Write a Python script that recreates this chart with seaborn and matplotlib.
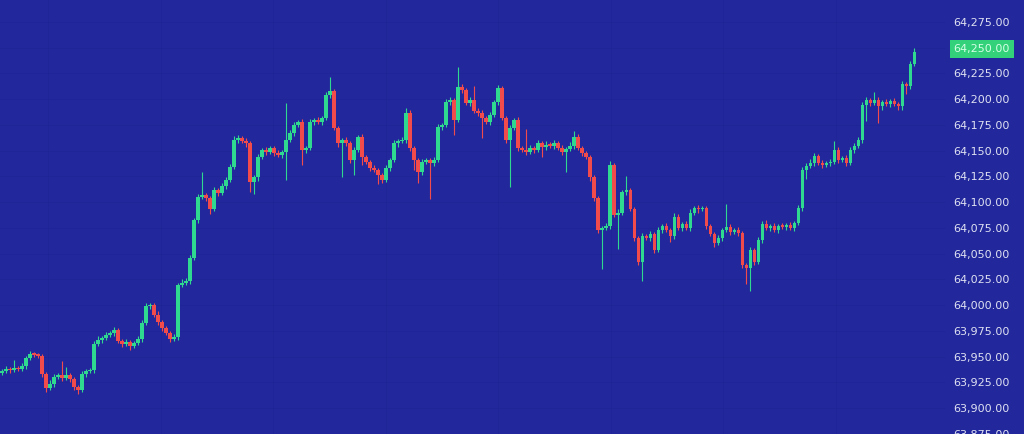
import numpy as np
import pandas as pd
import matplotlib
matplotlib.use("Agg")
import matplotlib.pyplot as plt
import seaborn as sns

# ---------------- data ----------------
first_open = 63934
closes = [
    63936, 63938, 63937, 63939, 63938, 63941, 63949, 63953, 63952, 63951,
    63933, 63920, 63924, 63930, 63932, 63929, 63932, 63928, 63921, 63918,
    63933, 63936, 63937, 63962, 63966, 63968, 63971, 63973, 63976, 63965,
    63962, 63964, 63960, 63963, 63967, 63983, 63999, 64000, 63991, 63984,
    63978, 63973, 63967, 63969, 64020, 64022, 64024, 64046, 64083, 64105,
    64107, 64104, 64093, 64112, 64109, 64116, 64122, 64134, 64160, 64162,
    64159, 64157, 64120, 64124, 64144, 64151, 64149, 64153, 64148, 64146,
    64149, 64160, 64167, 64175, 64178, 64151, 64153, 64178, 64180, 64178,
    64182, 64204, 64208, 64172, 64157, 64160, 64157, 64141, 64151, 64163,
    64144, 64139, 64133, 64131, 64126, 64122, 64133, 64141, 64157, 64159,
    64160, 64187, 64153, 64141, 64129, 64139, 64141, 64138, 64141, 64173,
    64175, 64197, 64199, 64180, 64212, 64209, 64196, 64199, 64189, 64187,
    64182, 64178, 64185, 64197, 64211, 64182, 64160, 64172, 64180, 64153,
    64151, 64149, 64153, 64151, 64157, 64154, 64156, 64155, 64157, 64153,
    64149, 64152, 64155, 64163, 64153, 64148, 64144, 64124, 64104, 64073,
    64075, 64077, 64136, 64088, 64090, 64110, 64112, 64093, 64065, 64042,
    64067, 64065, 64069, 64054, 64073, 64077, 64073, 64067, 64086, 64075,
    64079, 64075, 64090, 64094, 64093, 64094, 64077, 64069, 64060, 64065,
    64073, 64076, 64071, 64073, 64070, 64039, 64036, 64054, 64042, 64063,
    64079, 64075, 64077, 64073, 64077, 64076, 64078, 64075, 64080, 64094,
    64131, 64135, 64138, 64145, 64138, 64136, 64138, 64139, 64151, 64141,
    64143, 64138, 64151, 64155, 64160, 64194, 64199, 64196, 64199, 64193,
    64197, 64195, 64198, 64195, 64193, 64215, 64213, 64234, 64246,
]
upper_wick = [
    2, 3, 2, 8, 2, 3, 2, 3, 2, 2,
    2, 2, 3, 3, 2, 14, 8, 2, 2, 2,
    3, 2, 2, 3, 4, 2, 3, 2, 3, 2,
    2, 3, 2, 2, 3, 3, 3, 2, 2, 3,
    2, 2, 2, 3, 2, 3, 2, 3, 2, 3,
    22, 2, 2, 3, 2, 3, 2, 3, 4, 3,
    2, 3, 2, 2, 3, 2, 3, 2, 2, 3,
    2, 36, 3, 3, 2, 3, 2, 3, 2, 3,
    2, 3, 14, 2, 2, 2, 3, 2, 3, 2,
    3, 2, 2, 3, 2, 2, 3, 2, 3, 2,
    3, 4, 3, 2, 2, 3, 2, 2, 3, 3,
    2, 3, 3, 2, 19, 3, 2, 3, 14, 2,
    3, 2, 3, 2, 3, 2, 2, 3, 2, 3,
    2, 20, 3, 2, 3, 2, 3, 2, 3, 2,
    3, 2, 3, 6, 3, 2, 2, 2, 2, 2,
    2, 3, 4, 2, 3, 2, 13, 2, 2, 2,
    3, 2, 3, 2, 3, 2, 3, 2, 4, 3,
    2, 3, 3, 2, 3, 2, 2, 2, 2, 3,
    2, 22, 3, 2, 3, 2, 2, 3, 2, 3,
    3, 4, 2, 3, 2, 3, 2, 3, 2, 3,
    3, 3, 4, 3, 2, 3, 2, 3, 8, 3,
    2, 3, 3, 2, 3, 3, 3, 2, 8, 3,
    2, 3, 2, 3, 2, 3, 2, 3, 4,
]
lower_wick = [
    2, 2, 3, 2, 2, 2, 3, 2, 2, 2,
    3, 4, 2, 3, 2, 3, 2, 3, 3, 4,
    2, 3, 2, 3, 2, 3, 2, 2, 3, 2,
    3, 2, 3, 2, 2, 3, 2, 3, 2, 3,
    3, 2, 3, 2, 3, 2, 2, 3, 2, 3,
    2, 3, 4, 2, 3, 2, 3, 2, 2, 3,
    2, 3, 10, 12, 3, 2, 3, 2, 3, 2,
    3, 27, 2, 3, 2, 15, 3, 2, 3, 2,
    3, 2, 3, 2, 3, 33, 2, 3, 15, 2,
    8, 2, 3, 2, 8, 3, 2, 3, 2, 3,
    2, 3, 3, 10, 10, 3, 2, 35, 3, 2,
    3, 2, 3, 15, 2, 3, 2, 3, 2, 3,
    20, 2, 3, 2, 3, 2, 3, 45, 2, 3,
    2, 3, 2, 3, 2, 10, 3, 2, 3, 2,
    3, 20, 2, 3, 2, 3, 2, 3, 3, 3,
    38, 2, 3, 2, 33, 2, 3, 2, 3, 3,
    18, 2, 3, 3, 2, 3, 2, 6, 3, 2,
    3, 2, 3, 2, 3, 2, 3, 2, 3, 2,
    3, 2, 3, 2, 3, 3, 15, 22, 3, 2,
    3, 2, 3, 2, 3, 2, 3, 2, 3, 2,
    3, 8, 2, 3, 2, 3, 2, 3, 2, 3,
    2, 3, 2, 3, 2, 3, 15, 3, 2, 16,
    3, 2, 3, 2, 3, 3, 8, 3, 2,
]
price_ticks = [63875 + 25 * k for k in range(17)]
highlight_price = 64250

# ---------------- frame ----------------
n = len(closes)
opens = [first_open] + closes[:-1]
df = pd.DataFrame({"idx": np.arange(n), "open": opens, "close": closes})
df["top"] = df[["open", "close"]].max(axis=1)
df["bot"] = df[["open", "close"]].min(axis=1)
df["high"] = df["top"] + np.array(upper_wick)
df["low"] = df["bot"] - np.array(lower_wick)
df["up"] = df["close"] >= df["open"]

BG = "#22289b"
GREEN = "#2fd98f"
RED = "#f24b4b"
GRID = "#1e2494"

sns.set_theme(style="dark")
plt.rcParams["font.family"] = ["DejaVu Sans"]

fig = plt.figure(figsize=(10.24, 4.34), dpi=100, facecolor=BG)
ax = fig.add_axes([0, 0, 0.923, 1])
ax.set_facecolor(BG)

colors = np.where(df["up"], GREEN, RED)
ax.vlines(df["idx"], df["low"], df["high"], colors=colors, linewidth=0.8, zorder=2)
heights = np.maximum(df["top"] - df["bot"], 1.5)
ax.bar(df["idx"], heights, bottom=df["bot"], width=0.8, color=colors,
       linewidth=0, zorder=3)

ax.set_xlim(-0.5, 235.75)
ax.set_ylim(63875.8, 64296.3)

# faint grid
ax.set_xticks([11.5 + 28.125 * k for k in range(8)])
ax.set_xticklabels([])
ax.set_yticks(price_ticks)
ax.set_yticklabels([f"{p:,.2f}" for p in price_ticks])
ax.grid(True, color=GRID, linewidth=0.7, alpha=0.6)
ax.set_axisbelow(True)
ax.yaxis.tick_right()
ax.tick_params(axis="y", length=0, pad=6, labelsize=8, labelcolor="#dfe1f2")
ax.tick_params(axis="x", length=0)
for s in ax.spines.values():
    s.set_visible(False)

for lbl, p in zip(ax.get_yticklabels(), price_ticks):
    if p == highlight_price:
        lbl.set_color("#d6ffe6")
        lbl.set_bbox(dict(boxstyle="square,pad=0.35", facecolor="#33d17a",
                          edgecolor="none"))

ax.set_xlabel("")
ax.set_ylabel("")
fig.savefig("out.png", dpi=100, facecolor=BG)
